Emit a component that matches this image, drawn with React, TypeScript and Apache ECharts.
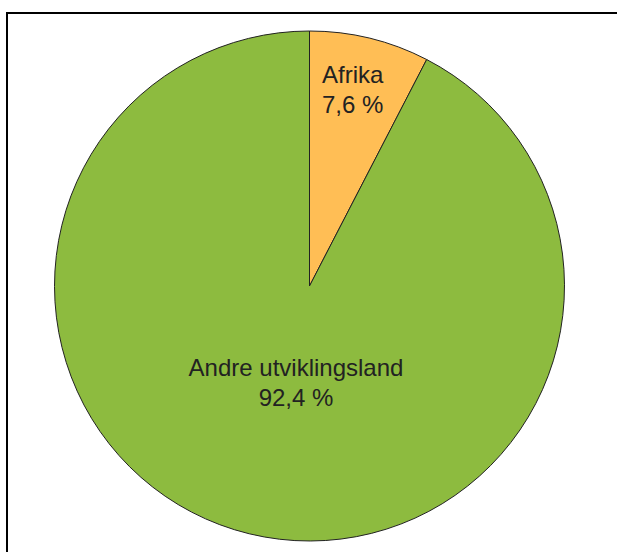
import React, { useEffect, useRef } from "react";
import * as echarts from "echarts";

const categories = ["Afrika", "Andre utviklingsland"];
const values = [7.6, 92.4];
const colors = ["#FFBE55", "#8DBB3F"];

export default function App() {
  const ref = useRef<HTMLDivElement>(null);
  useEffect(() => {
    if (!ref.current) return;
    const chart = echarts.init(ref.current, undefined, { renderer: "svg" });
    const font = "'Liberation Sans', Arial, sans-serif";
    chart.setOption({
      animation: false,
      backgroundColor: "#ffffff",
      graphic: [
        {
          type: "polyline",
          shape: { points: [[7, 552], [7, 13], [617, 13]] },
          style: { stroke: "#000", lineWidth: 2, fill: "none" },
          z: 10,
        },
      ],
      series: [
        {
          type: "pie",
          center: [309.5, 286],
          radius: 255,
          startAngle: 90,
          clockwise: true,
          silent: true,
          data: categories.map((name, i) => ({
            name,
            value: values[i],
            itemStyle: { color: colors[i] },
          })),
          itemStyle: { borderColor: "#222", borderWidth: 1 },
          label: {
            show: true,
            position: "inside",
            fontFamily: font,
            fontSize: 24,
            lineHeight: 30,
            color: "#222",
            formatter: (p: any) =>
              p.name + "\n" + String(p.value).replace(".", ",") + " %",
          },
          labelLine: { show: false },
          labelLayout: (p: any) =>
            p.dataIndex === 0
              ? { x: 322, y: 89, align: "left", verticalAlign: "middle" }
              : { x: 296, y: 382, align: "center", verticalAlign: "middle" },
        },
      ],
    });
    return () => chart.dispose();
  }, []);
  return (
    <div
      ref={ref}
      style={{ position: "absolute", left: 0, top: 0, width: 617, height: 552 }}
    />
  );
}
